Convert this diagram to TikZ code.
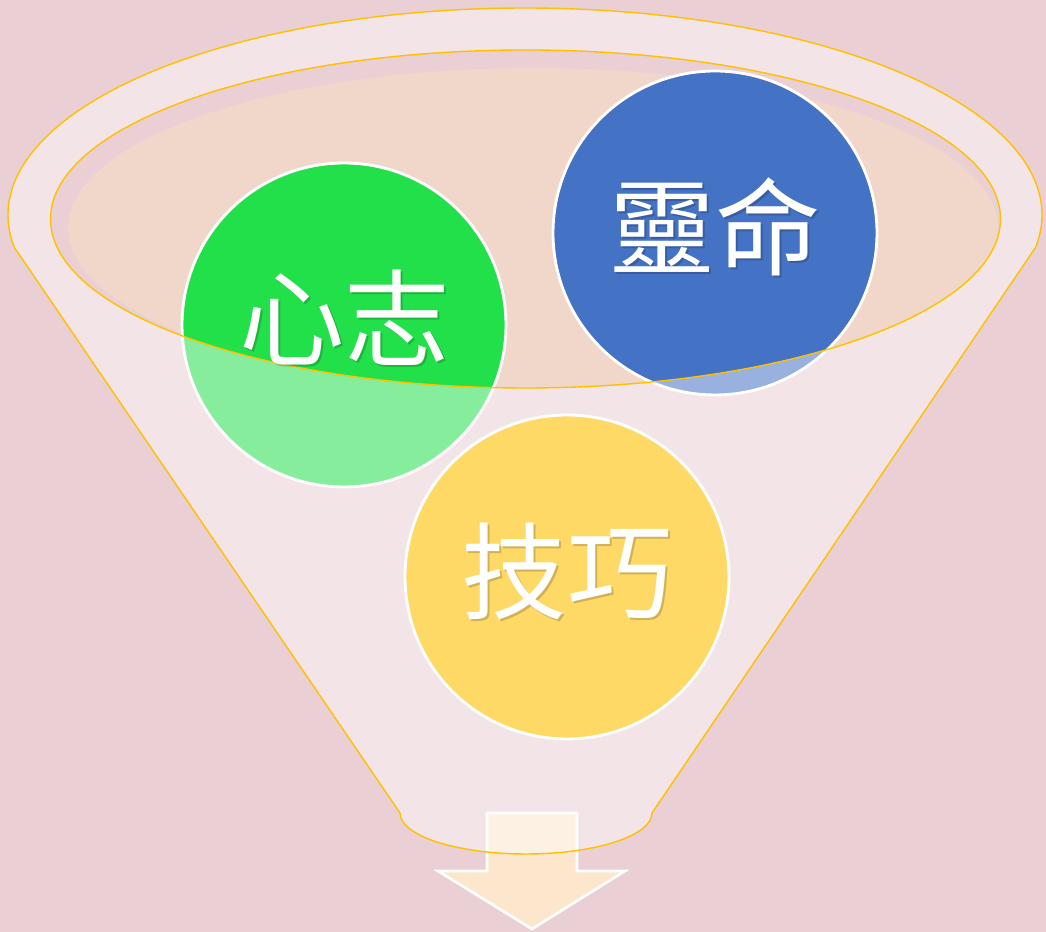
\documentclass[tikz,border=0pt]{standalone}
\usepackage{fontspec}
\newfontfamily\cjk{Noto Sans CJK TC}
\definecolor{bgpink}{RGB}{234,208,212}
\definecolor{peach}{RGB}{241,215,201}
\definecolor{rimorange}{RGB}{255,192,0}
\definecolor{cgreen}{RGB}{34,224,74}
\definecolor{cblue}{RGB}{68,114,196}
\definecolor{cyellow}{RGB}{255,217,102}
\definecolor{arrowfill}{RGB}{253,231,204}
\tikzset{
  ball/.style={circle, draw=white, line width=1.6pt, minimum size=6.48cm, inner sep=0pt},
  word/.style={text=white, inner sep=0pt, anchor=base, font=\cjk\fontsize{60}{60}\selectfont},
  wordshadow/.style={text=black, opacity=0.18, inner sep=0pt, anchor=base, font=\cjk\fontsize{60}{60}\selectfont},
  rimline/.style={draw=rimorange, line width=0.8pt},
}
\begin{document}
\begin{tikzpicture}[x=0.02cm, y=0.02cm]
\useasboundingbox (0,0) rectangle (1046,932);
% background
\fill[bgpink] (0,0) rectangle (1046,932);
% peach inner surface
\fill[peach] (533,704) ellipse [x radius=465, y radius=160];
% arrow below the funnel
\coordinate (a1) at (487,119);
\coordinate (a2) at (577,119);
\coordinate (a3) at (577,61);
\coordinate (a4) at (625,61);
\coordinate (a5) at (532,3);
\coordinate (a6) at (438,61);
\coordinate (a7) at (487,61);
\draw[fill=arrowfill, draw=white, line width=1.5pt, line join=miter] (a1) -- (a2) -- (a3) -- (a4) -- (a5) -- (a6) -- (a7) -- cycle;
% back circles
\node[ball, fill=cgreen] (green) at (344,607) {};
\node[ball, fill=cblue] (blue) at (715,699) {};
% funnel body (translucent white), with the mouth left open
\fill[white, opacity=0.45, even odd rule]
  (1035.6,684.6) arc [start angle=-9, end angle=189, x radius=517, y radius=207]
  -- (400,119) arc [start angle=180, end angle=360, x radius=126, y radius=41]
  -- cycle
  (525.5,713) ellipse [x radius=475, y radius=169];
% funnel outlines
\draw[rimline]
  (1035.6,684.6) arc [start angle=-9, end angle=189, x radius=517, y radius=207]
  -- (400,119) arc [start angle=180, end angle=360, x radius=126, y radius=41]
  -- cycle;
\draw[rimline] (525.5,713) ellipse [x radius=475, y radius=169];
% front circle
\node[ball, fill=cyellow] (yellow) at (567,355) {};
% labels
\node[wordshadow] at (347,571) {心志};
\node[word] (t1) at (345,573) {心志};
\node[wordshadow] at (717,662) {靈命};
\node[word] (t2) at (715,664) {靈命};
\node[wordshadow] at (569,318) {技巧};
\node[word] (t3) at (567,320) {技巧};
\end{tikzpicture}
\end{document}
